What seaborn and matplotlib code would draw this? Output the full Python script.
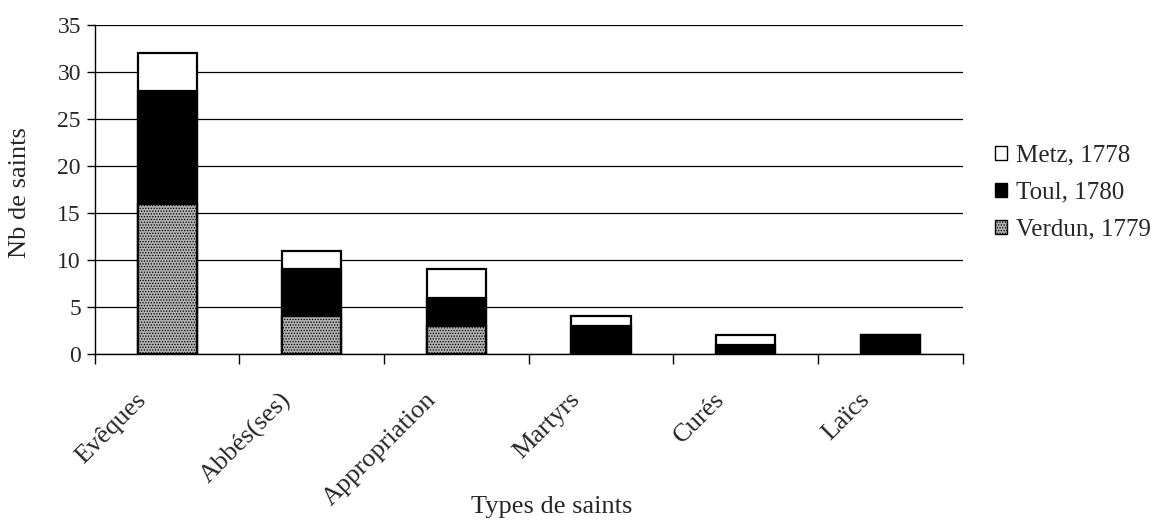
import numpy as np
import pandas as pd
import matplotlib
matplotlib.use("Agg")
import matplotlib.pyplot as plt
import seaborn as sns
from matplotlib.patches import Patch

categories = ["Evêques", "Abbés(ses)", "Appropriation", "Martyrs", "Curés", "Laïcs"]
verdun = [16, 4, 3, 0, 0, 0]
toul = [12, 5, 3, 3, 1, 2]
metz = [4, 2, 3, 1, 1, 0]

sns.set_style("white")
plt.rcParams["font.family"] = ["Liberation Serif", "DejaVu Serif"]
plt.rcParams["hatch.linewidth"] = 0.6

gray = "#b0b0b0"
df = pd.DataFrame({"type": categories, "verdun": verdun, "toul": toul, "metz": metz})
df["c_toul"] = df["verdun"] + df["toul"]
df["c_metz"] = df["c_toul"] + df["metz"]

fig = plt.figure(figsize=(11.57, 5.23), dpi=100)
ax = fig.add_axes([0.082, 0.323, 0.75, 0.629])

common = dict(x="type", order=categories, width=0.41, edgecolor="black",
              linewidth=1.6, ax=ax, zorder=3)
sns.barplot(data=df, y="c_metz", color="white", saturation=1, **common)
sns.barplot(data=df, y="c_toul", color="black", saturation=1, **common)
n_before = len(ax.patches)
sns.barplot(data=df, y="verdun", color=gray, saturation=1, **common)
for p in ax.patches[n_before:]:
    p.set_hatch("......")
# zero-height bars would leave a stray outline on the axis
for p in ax.patches:
    if p.get_height() == 0:
        p.set_visible(False)

ax.set_xlim(-0.5, len(categories) - 0.5)
ax.set_ylim(0, 35)
ax.set_yticks(range(0, 36, 5))
ax.yaxis.grid(True, color="black", linewidth=0.9)
ax.set_axisbelow(True)
for s in ["top", "right"]:
    ax.spines[s].set_visible(False)
for s in ["left", "bottom"]:
    ax.spines[s].set_color("black")
    ax.spines[s].set_linewidth(1)

# labels sit a little left of the bar centres, as in the original
ax.set_xticks(np.arange(len(categories)) - 0.22)
ax.set_xticklabels(categories, rotation=45, ha="right", rotation_mode="anchor",
                   fontsize=19)
ax.set_xticks(np.arange(-0.5, len(categories), 1), minor=True)
ax.tick_params(axis="x", which="minor", bottom=True, length=7, width=1,
               color="black", direction="out")
ax.tick_params(axis="x", which="major", bottom=False, length=0, pad=25)
ax.tick_params(axis="y", left=True, length=6, width=1, color="black",
               direction="out", labelsize=17, pad=4)

ax.set_xlabel("Types de saints", fontsize=19)
ax.xaxis.set_label_coords(0.527, -0.43)
ax.set_ylabel("Nb de saints", fontsize=19)
ax.yaxis.set_label_coords(-0.074, 0.49)

handles = [Patch(facecolor="white", edgecolor="black", label="Metz, 1778"),
           Patch(facecolor="black", edgecolor="black", label="Toul, 1780"),
           Patch(facecolor=gray, edgecolor="black", hatch="......",
                 label="Verdun, 1779")]
ax.legend(handles=handles, loc="center left", bbox_to_anchor=(1.037, 0.49),
          frameon=False, fontsize=18, handlelength=0.5, handleheight=0.5,
          handletextpad=0.35, labelspacing=0.6, borderpad=0, borderaxespad=0)

fig.savefig("out.png", dpi=100)
